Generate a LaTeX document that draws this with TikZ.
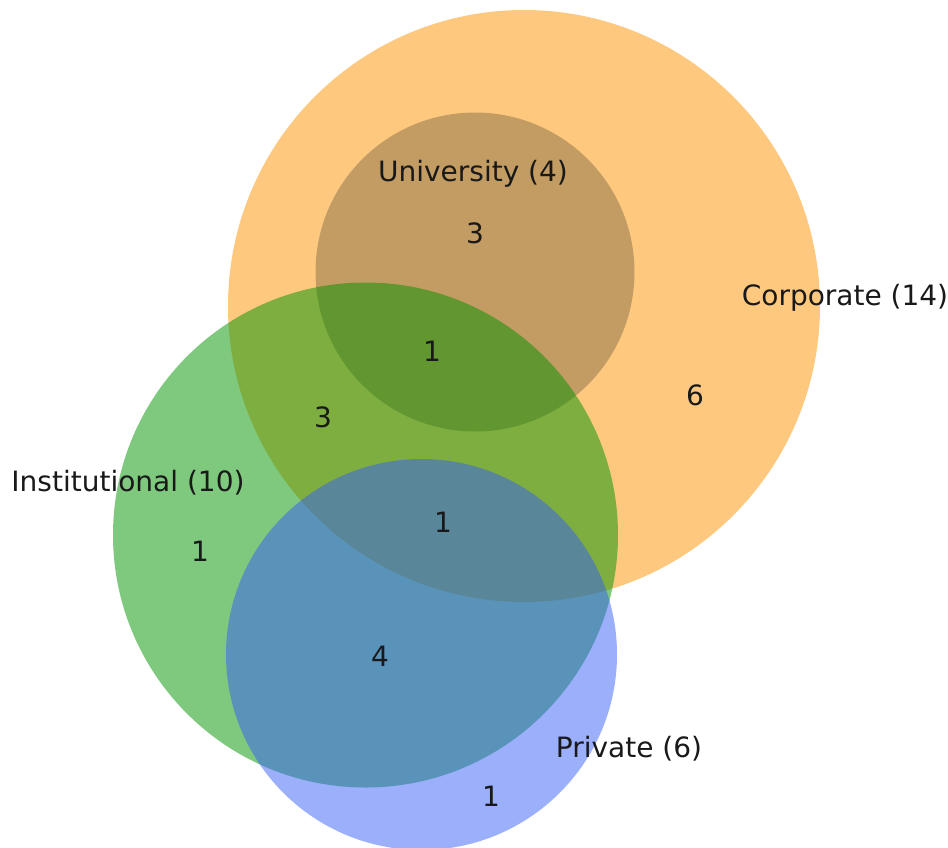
\documentclass[tikz,border=0pt]{standalone}
\usepackage{fontspec}
\setmainfont{DejaVu Sans}
\definecolor{corpc}{RGB}{253,147,0}
\definecolor{univc}{RGB}{136,111,74}
\definecolor{instc}{RGB}{0,147,0}
\definecolor{privc}{RGB}{55,95,245}
\definecolor{txtc}{RGB}{25,25,25}
\tikzset{
  setfill/.style={fill=#1, fill opacity=0.5, draw=none},
  lbl/.style={text=txtc, inner sep=0pt, anchor=center, font=\fontsize{28}{34}\selectfont},
}
\begin{document}
\begin{tikzpicture}[x=1pt,y=-1pt]
\useasboundingbox (0,0) rectangle (948,847);
\fill[setfill=corpc] (524,306) circle[radius=296];
\fill[setfill=univc] (475,272) circle[radius=159.5];
\fill[setfill=instc] (365.5,535) circle[radius=252.5];
\fill[setfill=privc] (421.5,654.5) circle[radius=195.5];
\node[lbl] (univ) at (473,174) {University (4)};
\node[lbl] (corp) at (845,298) {Corporate (14)};
\node[lbl] (inst) at (128,483) {Institutional (10)};
\node[lbl] (priv) at (629,749) {Private (6)};
\node[lbl] (n1) at (475,233) {3};
\node[lbl] (n2) at (432,351) {1};
\node[lbl] (n3) at (695,395) {6};
\node[lbl] (n4) at (323,417) {3};
\node[lbl] (n5) at (443,522) {1};
\node[lbl] (n6) at (200,551) {1};
\node[lbl] (n7) at (380,656) {4};
\node[lbl] (n8) at (491,796) {1};
\end{tikzpicture}
\end{document}
